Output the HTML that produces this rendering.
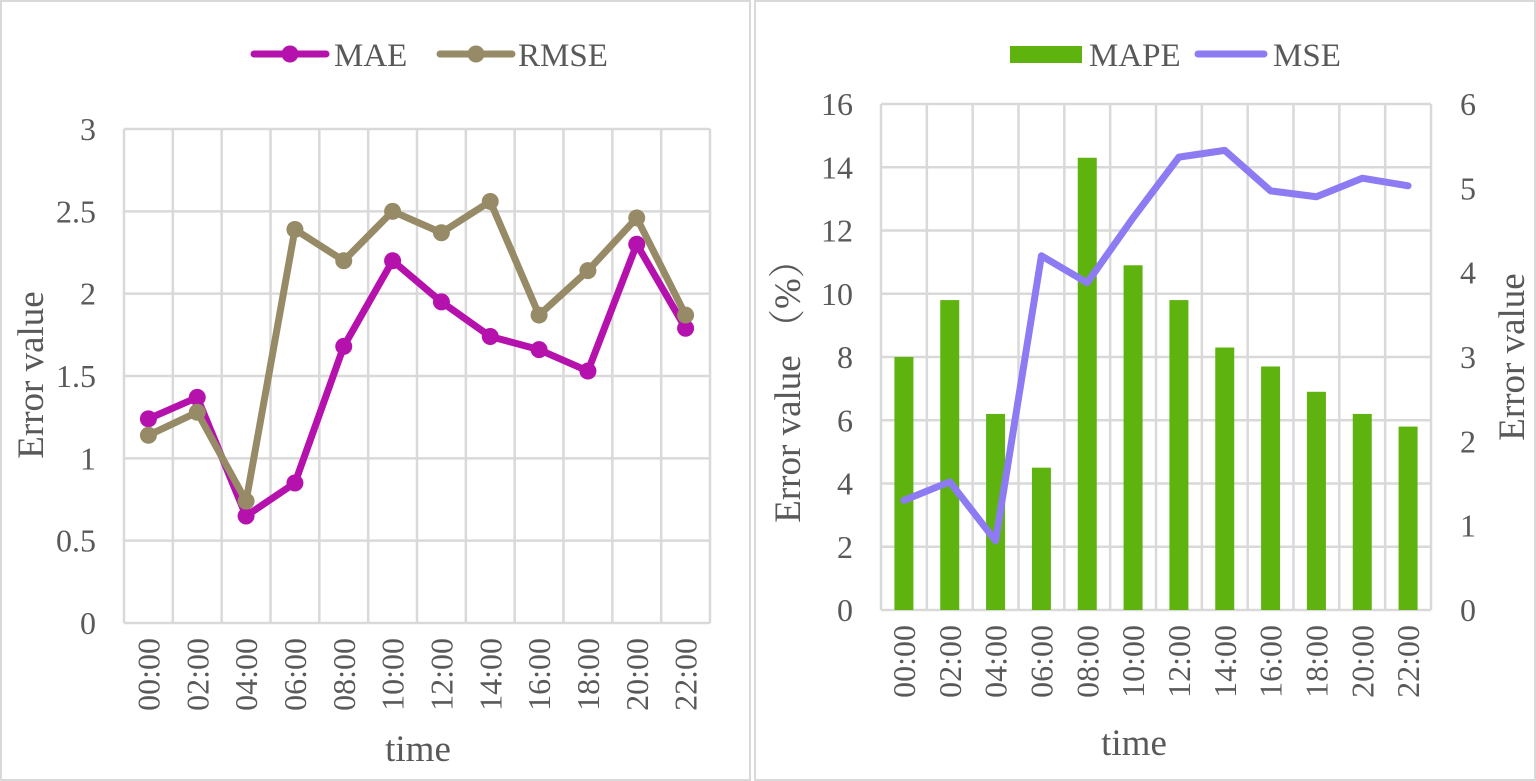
<!DOCTYPE html>
<html><head><meta charset="utf-8"><style>
html,body{margin:0;padding:0;background:#fff;}
svg{display:block;font-family:"Liberation Serif","Noto Serif CJK SC",serif;}
</style></head><body>
<svg id="s" width="1536" height="781" viewBox="0 0 1536 781" xmlns="http://www.w3.org/2000/svg"></svg>
<script>
const s=document.getElementById('s');
let h='';
h+='<rect x="1" y="1" width="749" height="779" fill="#fff" stroke="#d9d9d9" stroke-width="2"/>';
h+='<rect x="755" y="1" width="780" height="779" fill="#fff" stroke="#d9d9d9" stroke-width="2"/>';
const labs=['00:00','02:00','04:00','06:00','08:00','10:00','12:00','14:00','16:00','18:00','20:00','22:00'];
const G='#d9d9d9',T='#595959';
const TF=32, AF=37;
// Left chart
{const x0=124,x1=710,y0=623,yt=129,n=12,cw=(x1-x0)/n;
 const Y=v=>y0-(v/3)*(y0-yt);
 for(let i=0;i<=6;i++){const y=Y(i*0.5);h+=`<line x1="${x0}" x2="${x1}" y1="${y}" y2="${y}" stroke="${G}" stroke-width="2.5"/>`;
  h+=`<text x="96" y="${y+11}" font-size="${TF}" fill="${T}" text-anchor="end">${i*0.5}</text>`;}
 for(let i=0;i<=n;i++){const x=x0+i*cw;h+=`<line x1="${x}" x2="${x}" y1="${yt}" y2="${y0}" stroke="${G}" stroke-width="2.5"/>`;}
 labs.forEach((l,i)=>{const x=x0+(i+.5)*cw;h+=`<text transform="translate(${x+11},638) rotate(-90)" font-size="${TF}" fill="${T}" text-anchor="end">${l}</text>`;});
 const mae=[1.24,1.37,0.65,0.85,1.68,2.2,1.95,1.74,1.66,1.53,2.3,1.79];
 const rmse=[1.14,1.28,0.74,2.39,2.2,2.5,2.37,2.56,1.87,2.14,2.46,1.87];
 [[mae,'#b512ad'],[rmse,'#978a66']].forEach(([d,c])=>{
  const pts=d.map((v,i)=>`${x0+(i+.5)*cw},${Y(v)}`).join(' ');
  h+=`<polyline points="${pts}" fill="none" stroke="${c}" stroke-width="7" stroke-linejoin="round"/>`;
  d.forEach((v,i)=>{h+=`<circle cx="${x0+(i+.5)*cw}" cy="${Y(v)}" r="8.5" fill="${c}"/>`;});
 });
 h+=`<text transform="translate(43,375) rotate(-90)" font-size="${AF}" fill="${T}" text-anchor="middle">Error value</text>`;
 h+=`<text x="418" y="761" font-size="${AF}" fill="${T}" text-anchor="middle">time</text>`;
 h+=`<line x1="254" x2="326" y1="54" y2="54" stroke="#b512ad" stroke-width="7" stroke-linecap="round"/><circle cx="290" cy="54" r="8.5" fill="#b512ad"/>`;
 h+=`<text x="334" y="66" font-size="33" fill="${T}">MAE</text>`;
 h+=`<line x1="440" x2="512" y1="54" y2="54" stroke="#978a66" stroke-width="7" stroke-linecap="round"/><circle cx="476" cy="54" r="8.5" fill="#978a66"/>`;
 h+=`<text x="518" y="66" font-size="33" fill="${T}">RMSE</text>`;
}
// Right chart
{const x0=881,x1=1431,y0=610,yt=104,n=12,cw=(x1-x0)/n;
 const Y=v=>y0-(v/16)*(y0-yt), Y2=v=>y0-(v/6)*(y0-yt);
 for(let i=0;i<=8;i++){const y=Y(i*2);h+=`<line x1="${x0}" x2="${x1}" y1="${y}" y2="${y}" stroke="${G}" stroke-width="2.5"/>`;
  h+=`<text x="853" y="${y+11}" font-size="${TF}" fill="${T}" text-anchor="end">${i*2}</text>`;}
 for(let i=0;i<=6;i++){h+=`<text x="1460" y="${Y2(i)+11}" font-size="${TF}" fill="${T}">${i}</text>`;}
 for(let i=0;i<=n;i++){const x=x0+i*cw;h+=`<line x1="${x}" x2="${x}" y1="${yt}" y2="${y0}" stroke="${G}" stroke-width="2.5"/>`;}
 labs.forEach((l,i)=>{const x=x0+(i+.5)*cw;h+=`<text transform="translate(${x+11},625) rotate(-90)" font-size="${TF}" fill="${T}" text-anchor="end">${l}</text>`;});
 const mape=[8,9.8,6.2,4.5,14.3,10.9,9.8,8.3,7.7,6.9,6.2,5.8];
 const mse=[1.3,1.52,0.82,4.2,3.88,4.65,5.37,5.45,4.97,4.9,5.12,5.03];
 mape.forEach((v,i)=>{const x=x0+(i+.5)*cw;h+=`<rect x="${x-9.5}" y="${Y(v)}" width="19" height="${y0-Y(v)}" fill="#5eb30f"/>`;});
 h+=`<polyline points="${mse.map((v,i)=>`${x0+(i+.5)*cw},${Y2(v)}`).join(' ')}" fill="none" stroke="#8c7bf2" stroke-width="7" stroke-linejoin="round" stroke-linecap="round"/>`;
 h+=`<text transform="translate(800,382) rotate(-90)" font-size="${AF}" fill="${T}" text-anchor="middle">Error value （%）</text>`;
 h+=`<text transform="translate(1524,357) rotate(-90)" font-size="${AF}" fill="${T}" text-anchor="middle">Error value</text>`;
 h+=`<text x="1134" y="755" font-size="${AF}" fill="${T}" text-anchor="middle">time</text>`;
 h+=`<rect x="1010" y="46" width="72" height="17" fill="#5eb30f"/>`;
 h+=`<text x="1089" y="66" font-size="33" fill="${T}">MAPE</text>`;
 h+=`<line x1="1198" x2="1264" y1="54" y2="54" stroke="#8c7bf2" stroke-width="7" stroke-linecap="round"/>`;
 h+=`<text x="1273" y="66" font-size="33" fill="${T}">MSE</text>`;
}
s.innerHTML=h;
</script>
</body></html>
